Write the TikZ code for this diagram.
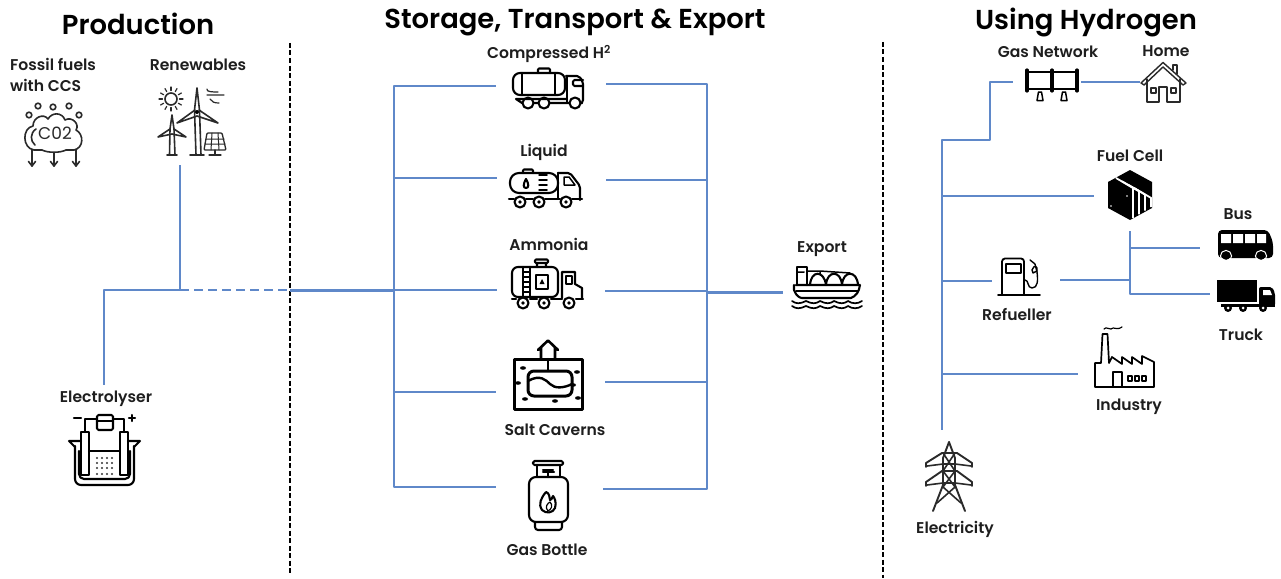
\documentclass[tikz,border=0pt]{standalone}
\usepackage{fontspec}
\usetikzlibrary{calc}
\setmainfont{Poppins}[BoldFont={Poppins SemiBold}]
\tikzset{
  x=1pt,y=-1pt,
  conn/.style={draw=linkblue,line width=2.2pt,line join=round},
  connthick/.style={conn,line width=3pt},
  divider/.style={draw=black,line width=1.6pt,dash pattern=on 5pt off 2.5pt},
  ic/.style={draw=black,line width=2.1pt,line join=round,line cap=round},
  icthin/.style={draw=iconink,line width=1.6pt,line join=round,line cap=round},
  icthick/.style={draw=black,line width=3pt,line join=round,line cap=round},
  lbl/.style={font=\bfseries\fontsize{15.6}{18}\selectfont,text=labelink,inner sep=0pt,align=left},
  head/.style={font=\bfseries\fontsize{27.4}{32}\selectfont,text=black,inner sep=0pt},
  iconbox/.style 2 args={inner sep=0pt,minimum width=#1,minimum height=#2,draw=none,fill=none},
}
\definecolor{linkblue}{HTML}{5F88C9}
\definecolor{labelink}{HTML}{1E1E1E}
\definecolor{iconink}{HTML}{2A2A2A}
\begin{document}
\begin{tikzpicture}
\useasboundingbox (0,0) rectangle (1281,578);
\fill[white] (0,0) rectangle (1281,578);
% headings
\node[head] (hProd) at (138,24) {Production};
\node[head] (hStore) at (575,22) {Storage, Transport \& Export};
\node[head] (hUse) at (1086,22) {Using Hydrogen};
% dividers
\coordinate (divAtop) at (290,43); \coordinate (divAbot) at (290,575);
\coordinate (divBtop) at (883,42); \coordinate (divBbot) at (883,578);
\draw[divider] (divAtop) -- (divAbot);
\draw[divider] (divBtop) -- (divBbot);
% labels
\node[lbl,anchor=west] (lFossil) at (10,75) {Fossil fuels\\[3pt]with CCS};
\node[lbl] (lRenew) at (198,65) {Renewables};
\node[lbl] (lElec) at (106,399) {Electrolyser};
\node[lbl] (lComp) at (549,54) {Compressed H\textsuperscript{2}};
\node[lbl] (lLiq) at (544,152) {Liquid};
\node[lbl] (lAmm) at (549,244) {Ammonia};
\node[lbl] (lSalt) at (555,430) {Salt Caverns};
\node[lbl] (lBottle) at (547,550) {Gas Bottle};
\node[lbl] (lExport) at (822,249) {Export};
\node[lbl] (lGas) at (1048,52) {Gas Network};
\node[lbl] (lHome) at (1166,51) {Home};
\node[lbl] (lFuel) at (1130,156) {Fuel Cell};
\node[lbl] (lBus) at (1238,214) {Bus};
\node[lbl] (lTruck) at (1241,335) {Truck};
\node[lbl] (lRef) at (1017,314) {Refueller};
\node[lbl] (lInd) at (1129,407) {Industry};
\node[lbl] (lElc) at (955,529) {Electricity};
% icon placeholders (connector end points)
\node[iconbox={110pt}{40pt}] (iComp) at (551,86) {};
\node[iconbox={109pt}{40pt}] (iLiq) at (551.5,178) {};
\node[iconbox={108pt}{40pt}] (iAmm) at (551,290) {};
\node[iconbox={109pt}{60pt}] (iSalt) at (550.5,392) {};
\node[iconbox={107pt}{60pt}] (iBottle) at (549.5,487) {};
\node[iconbox={74pt}{40pt}] (iExport) at (820,292) {};
\node[iconbox={68pt}{30pt}] (iGas) at (1047,82) {};
\node[iconbox={44pt}{40pt}] (iHome) at (1162,82) {};
\node[iconbox={72pt}{50pt}] (iFuel) at (1130,196) {};
\node[iconbox={68pt}{40pt}] (iRef) at (1026,281) {};
\node[iconbox={68pt}{40pt}] (iBus) at (1234,248) {};
\node[iconbox={48pt}{30pt}] (iTruck) at (1234,294) {};
\node[iconbox={72pt}{50pt}] (iInd) at (1114,374) {};
\node[iconbox={60pt}{84pt}] (iWind) at (180,123) {};
\node[iconbox={60pt}{80pt}] (iElectrolyser) at (104,425) {};
\node[iconbox={60pt}{80pt}] (iPylon) at (942,470) {};
% production connectors
\coordinate (jProd) at (180,290);
\coordinate (jElbow) at (104,290);
\coordinate (jDiv) at (290,290);
\coordinate (jL) at (394,290);
\coordinate (jLtop) at (394,86);
\coordinate (jLbot) at (394,487);
\draw[conn] (iWind.south) -- (jProd);
\draw[conn] (iElectrolyser.north) -- (jElbow) -- (jProd);
\draw[conn,dash pattern=on 9pt off 5pt] (jProd) -- (jDiv);
\draw[connthick] (jDiv) -- (jL);
% storage connectors
\draw[conn] (iComp.west) -- (jLtop) -- (jLbot) -- (iBottle.west);
\draw[conn] (iLiq.west) -- (iLiq.west -| jL);
\draw[conn] (iAmm.west) -- (jL);
\draw[conn] (iSalt.west) -- (iSalt.west -| jL);
\coordinate (jR) at (707,292);
\coordinate (jRtop) at (707,84);
\coordinate (jRbot) at (707,489);
\draw[conn] ([yshift=2pt]iComp.east) -- (jRtop) -- (jRbot) -- ([yshift=-2pt]iBottle.east);
\draw[conn] ([yshift=-2pt]iLiq.east) -- ([yshift=-2pt]iLiq.east -| jR);
\draw[conn] ([yshift=-1pt]iAmm.east) -- ([yshift=-1pt]iAmm.east -| jR);
\draw[conn] ([yshift=10pt]iSalt.east) -- ([yshift=10pt]iSalt.east -| jR);
\draw[connthick] (jR) -- (iExport.west);
% use connectors
\coordinate (jU) at (942,140);
\coordinate (jUb) at (990,140);
\coordinate (jUc) at (990,82);
\draw[conn] (iPylon.north) -- (jU) -- (jUb) -- (jUc) -- (iGas.west);
\draw[conn] (iGas.east) -- (iHome.west);
\draw[conn] (iFuel.west -| jU) -- (iFuel.west);
\draw[conn] (iRef.west -| jU) -- (iRef.west);
\draw[conn] (iInd.west -| jU) -- (iInd.west);
\coordinate (jV) at (1130,280);
\coordinate (jVtop) at (1130,231);
\coordinate (jVbot) at (1130,294);
\draw[conn] ([yshift=1pt]iRef.east) -- (jV);
\draw[conn] (jVtop) -- (jVbot) -- (iTruck.west);
\draw[conn] (iBus.west -| jV) -- (iBus.west);
%% ---------- icons ----------
% CO2 cloud
\begin{scope}
\draw[icthin] (34,150) .. controls (22,148) and (22,128) .. (33,126) .. controls (33,117) and (44,113) .. (48,119) .. controls (52,112) and (62,112) .. (65,120) .. controls (72,116) and (80,124) .. (76,130) .. controls (84,134) and (84,148) .. (74,150) -- (66,150) .. controls (60,153) and (48,153) .. (42,150) -- cycle;
\draw[icthin] (36,129) .. controls (30,133) and (30,141) .. (35,145);
\foreach \cx/\cy in {29/115,38/106,53/107,69/106,79/115} \draw[icthin] (\cx,\cy) circle (2.8);
\foreach \cx/\ctop in {32/150,54/153,76/150} {
  \draw[icthin] (\cx,\ctop) -- (\cx,166);
  \draw[icthin] (\cx-3.5,161.5) -- (\cx,166) -- (\cx+3.5,161.5);
}
\node[inner sep=0pt,font=\fontsize{17}{17}\selectfont,text=iconink] (tCO) at (55,133) {C02};
\end{scope}
% renewables
\begin{scope}
\draw[icthin] (171,99) circle (6);
\foreach \a in {0,30,...,330} \draw[icthin,line width=1.2pt] ($(171,99)+(\a:8.5)$) -- ($(171,99)+(\a:12)$);
\draw[icthin] (197,88) -- (194.5,110) -- (196,155) (197,88) -- (199.5,110) -- (201,155);
\draw[icthin] (190,155) -- (204,155);
\draw[icthin] (195,110) -- (177,123) -- (197,116) -- (218,123) -- (199,110);
\fill[black] (197,112) circle (2);
\draw[icthin] (172,115) -- (170,129) -- (169.5,155) (172,115) -- (174,129) -- (175,155);
\draw[icthin] (167,155) -- (177,155);
\draw[icthin] (170,129) -- (158,137) -- (172,134) -- (186,137) -- (174,129);
\draw[icthin,line width=1.2pt] (207,95) -- (224,95) (207,89) .. controls (206,92) and (213,92) .. (218,92) (210,99) .. controls (212,102) and (214,103) .. (219,103);
\draw[icthin,line width=1.3pt,rounded corners=1pt] (207,133) -- (222,133) -- (226,150) -- (204,150) -- cycle;
\draw[icthin,line width=1pt] (206,139) -- (224,139) (205,144) -- (225,144) (212,133) -- (211,150) (218,133) -- (219,150);
\draw[icthin,line width=1.2pt] (215,150) -- (215,155) (209,155) -- (221,155);
\end{scope}
% electrolyser
\begin{scope}
\draw[ic] (69,441) -- (81,441) (128,441) -- (140,441) (69,441) -- (75,447) (140,441) -- (134,447);
\draw[ic,rounded corners=6pt] (75,446) -- (75,485) -- (134,485) -- (134,446);
\draw[ic,rounded corners=5pt] (79,451) -- (79,479) -- (130,479) -- (130,451);
\draw[ic] (89,451) -- (119,451);
\draw[ic] (81,432) rectangle (89,475);
\draw[ic] (120,432) rectangle (128,475);
\draw[ic] (85,432) -- (85,419) -- (97,419) (113,419) -- (124,419) -- (124,432);
\draw[ic,rounded corners=1.5pt] (97,415) rectangle (113,430);
\draw[ic] (97,421) -- (113,421);
\draw[ic] (74,418) -- (81,418);
\draw[ic] (129,418) -- (135,418) (132,415) -- (132,421);
\foreach \px in {97,102,107,112} \foreach \py in {458,463,468,474} \fill[black!80] (\px,\py) circle (1.2);
\end{scope}
% truck 1
\begin{scope}
\draw[ic,rounded corners=7pt] (513,73) rectangle (565,95);
\draw[ic] (522,73) -- (522,95) (555,73) -- (555,95);
\draw[ic,rounded corners=1pt] (538,73) -- (538,68.5) -- (550,68.5) -- (550,73);
\draw[ic,rounded corners=2pt] (566,76) -- (579,76) -- (583,82) -- (583,102) -- (582,103);
\draw[ic] (567,76) -- (567,103) -- (569,103);
\draw[ic,rounded corners=1.5pt] (583,80) -- (573,80) -- (573,86) -- (583,86);
\draw[ic] (516,99) -- (522,103) (516,99) -- (567,99) (534,103) -- (538,103) (550,103) -- (569,103);
\draw[ic] (528,103) circle (5.5) (544,103) circle (5.5) (575,103) circle (5.5);
\end{scope}
% truck 2
\begin{scope}
\draw[ic,rounded corners=9pt] (510,173) -- (558,173) -- (558,193) -- (510,193) -- cycle;
\draw[ic,rounded corners=1pt] (523,173) -- (523,169.5) -- (533,169.5) -- (533,173);
\draw[ic] (526,179) .. controls (523,184) and (523,188) .. (526,188) .. controls (529,188) and (529,184) .. (526,179);
\draw[ic,line width=1.5pt] (539,175) -- (547,175) (539,180) -- (547,180) (539,185) -- (547,185) (539,190) -- (547,190);
\draw[ic,rounded corners=2pt] (558,173) -- (570,173) -- (580,186) -- (580,200);
\draw[ic] (558,173) -- (558,198);
\draw[ic,line width=1.5pt] (564,177) -- (569,177) -- (575,185) -- (564,185) -- cycle;
\draw[ic] (509,199) -- (514,199) (526,199) -- (533,199) (545,199) -- (560,199) (572,199) -- (582,199);
\foreach \wx in {520,539,566} {\draw[ic] (\wx,202) circle (5.5); \fill[black] (\wx,202) circle (1.8);}
\end{scope}
% truck 3
\begin{scope}
\draw[ic,rounded corners=6pt] (512,267) rectangle (558,297);
\draw[ic] (523,267) -- (523,297) (530,267) -- (530,297);
\foreach \ly in {272,277,282,287,292} \draw[ic,line width=1.4pt] (523,\ly) -- (530,\ly);
\draw[ic,rounded corners=1pt] (537,267) -- (537,263) -- (546,263) -- (546,267) (535,259.5) rectangle (548,263);
\draw[ic] (536,275) rectangle (548,289);
\fill[black] (542,279) -- (539.5,284) -- (544.5,284) -- cycle;
\draw[ic] (562,298) -- (562,272) -- (575,272) -- (575,284) -- (582,288) -- (582,298);
\draw[ic,line width=1.5pt] (566,276) -- (572,276) -- (572,284) -- (566,284) -- cycle;
\draw[ic] (512,299) -- (516,299) (530,299) -- (537,299) (551,299) -- (562,299) (576,299) -- (583,299);
\foreach \wx in {523,544,569} {\draw[ic] (\wx,303) circle (5.5); \fill[black] (\wx,303) circle (1.8);}
\end{scope}
% salt cavern
\begin{scope}
\draw[icthick] (514,359) rectangle (582,409);
\draw[icthick,rounded corners=6pt] (528,371) rectangle (572,396);
\draw[icthick,line width=2.4pt] (528,381) .. controls (540,374) and (546,380) .. (550,384) .. controls (555,389) and (564,388) .. (572,384);
\draw[icthick,line width=2.4pt] (548,359) -- (548,371);
\draw[icthick,line width=2.6pt] (538,350) -- (548,340.5) -- (558,350) (541,348) -- (541,359) (555,348) -- (555,359);
\foreach \dx/\dy in {523/368,518/383,525/399,555/401,578/398,573/385,577/372}
  \fill[black] (\dx,\dy) ellipse (3 and 1.8);
\end{scope}
% gas bottle
\begin{scope}
\draw[ic,rounded corners=1.5pt] (533,461) rectangle (563,465);
\draw[ic] (537,465) -- (537,477) (560,465) -- (560,477) (543,472) -- (554,472) (548,472) -- (548,477) (543,470) -- (553,470);
\draw[ic,rounded corners=7pt] (529,477) rectangle (568,522);
\draw[ic,rounded corners=3pt] (535,522) -- (535,530) -- (562,530) -- (562,522);
\draw[ic] (546,492) .. controls (541,498) and (538,504) .. (542,510) .. controls (546,514) and (553,513) .. (555,508) .. controls (557,502) and (554,497) .. (553,496) .. controls (552,499) and (551,500) .. (550,500) .. controls (550,497) and (549,493) .. (546,492);
\draw[ic,line width=1.2pt] (548,511) .. controls (544,507) and (548,503) .. (550,502) .. controls (553,505) and (552,509) .. (548,511);
\end{scope}
% export ship
\begin{scope}
\draw[ic] (796,285) -- (860,285) (794,285) -- (794,290) .. controls (796,296) and (800,298) .. (802,298) -- (851,298) .. controls (856,296) and (859,292) .. (860,285);
\draw[ic,line width=1.4pt] (796,291) -- (858,291);
\draw[ic] (797,285) -- (797,267) -- (807,267) -- (807,285);
\draw[ic,line width=1.5pt] (797,272) -- (804,272) (807,271) -- (820,271) -- (820,274) (820,271) -- (850,273);
\draw[ic] (810,285) .. controls (811,270) and (824,270) .. (826,285);
\draw[ic] (826,285) .. controls (827,270) and (841,270) .. (842,285);
\draw[ic] (842,285) .. controls (843,270) and (857,270) .. (858,285);
\foreach \wy in {301,306}
  \draw[ic,line width=1.7pt] (792,\wy) .. controls (796,\wy+3) and (800,\wy+3) .. (806,\wy) .. controls (812,\wy+3) and (816,\wy+3) .. (820,\wy) .. controls (826,\wy+3) and (830,\wy+3) .. (834,\wy) .. controls (840,\wy+3) and (844,\wy+3) .. (848,\wy) .. controls (852,\wy+3) and (858,\wy+3) .. (862,\wy);
\end{scope}
% gas network
\begin{scope}
\draw[ic] (1027,72) -- (1077,72) (1027,89) -- (1077,89);
\foreach \fx in {1027,1052,1077} \draw[ic,line width=3.2pt] (\fx,70) -- (\fx,91);
\draw[ic,line width=1.5pt] (1038.5,92) -- (1041.5,92) -- (1043,100.5) -- (1037,100.5) -- cycle;
\draw[ic,line width=1.5pt] (1062.5,92) -- (1065.5,92) -- (1067,100.5) -- (1061,100.5) -- cycle;
\end{scope}
% home
\begin{scope}
\draw[icthin,line width=1.4pt] (1147,79) -- (1147,102) -- (1159,102) -- (1159,87) -- (1167,87) -- (1167,102) -- (1180,102) -- (1180,79);
\draw[icthin,line width=1.4pt] (1141,83) -- (1163,62.5) -- (1186,83) -- (1183,85) -- (1163,67) -- (1144,85) -- cycle;
\draw[icthin,line width=1.4pt] (1173,70) -- (1173,65) -- (1177,65) -- (1177,74);
\draw[icthin,line width=1.4pt] (1151,88) rectangle (1156,93) (1171,88) rectangle (1176,93);
\end{scope}
% fuel cell
\begin{scope}
\fill[black] (1130,170) -- (1152,182) -- (1152,208) -- (1130,220) -- (1108,208) -- (1108,182) -- cycle;
\foreach \sa/\sb in {0/0,6/3.3,12/6.6,18/9.9}
  \draw[white,line width=1.8pt] (1116+\sa,178+\sb) -- (1133+\sa,188+\sb) -- (1133+\sa,218-\sb*1.1);
\fill[white] (1127,196) circle (0.9) (1111,206) circle (0.9);
\end{scope}
% refueller
\begin{scope}
\draw[ic,line width=1.8pt,rounded corners=3pt] (1002,295) -- (1002,258.5) -- (1024,258.5) -- (1024,295);
\draw[ic,line width=1.5pt] (1006,264) rectangle (1021,273);
\draw[ic,line width=1.8pt] (998,295) -- (1040,295);
\draw[ic,line width=1.4pt] (1025,280) .. controls (1029,280) and (1027,288) .. (1032,288) .. controls (1038,288) and (1038,280) .. (1037,272) -- (1035,264) -- (1030,260);
\draw[ic,line width=1.4pt] (1032,270) .. controls (1034,264) and (1038,266) .. (1037,271) -- (1033,273) -- cycle;
\end{scope}
% bus
\begin{scope}
\fill[black,rounded corners=4pt] (1218,230) -- (1268,230) -- (1273,242) -- (1273,258) -- (1218,258) -- cycle;
\fill[white] (1221,234) rectangle (1231,243) (1233,234) rectangle (1243,243) (1245,234) rectangle (1255,243) (1257,234) rectangle (1266,243);
\draw[white,line width=1pt] (1226,256) circle (5.6) (1261,256) circle (5.6);
\fill[black] (1226,256) circle (3.8) (1261,256) circle (3.8);
\end{scope}
% black truck
\begin{scope}
\fill[black] (1217,280) rectangle (1257,302);
\fill[black,rounded corners=2pt] (1259,287) -- (1272,287) -- (1275,293) -- (1275,306) -- (1259,306) -- cycle;
\fill[white] (1263,290) -- (1270,290) -- (1272,295) -- (1263,295) -- cycle;
\fill[black] (1221,304) rectangle (1275,306.5);
\foreach \wx in {1228,1243,1263} {\fill[black] (\wx,308) circle (4); \fill[white] (\wx,308) circle (1.5);}
\end{scope}
% industry
\begin{scope}
\draw[ic,line width=1.7pt] (1095,387) -- (1095,363) -- (1101,363) -- (1102.5,334) -- (1107.5,334) -- (1109,363) -- (1112,357) -- (1122,364) -- (1122,357) -- (1132,364) -- (1132,357) -- (1142,364) -- (1142,356) -- (1154,362) -- (1154,387) -- cycle;
\draw[ic,line width=1.7pt] (1113,387) -- (1113,372) -- (1122,372) -- (1122,387);
\draw[ic,line width=1.5pt] (1128,376) rectangle (1132,381) (1135,376) rectangle (1139,381) (1142,376) rectangle (1146,381);
\draw[ic,line width=1.2pt] (1104,329) .. controls (1107,326) and (1108,330) .. (1111,329) .. controls (1114,326) and (1116,331) .. (1122,327);
\end{scope}
% pylon
\begin{scope}
\draw[icthin,line width=1.9pt] (949,442) -- (943,458) -- (943,485) -- (933,511);
\draw[icthin,line width=1.9pt] (949,442) -- (955,458) -- (955,485) -- (965,511);
\draw[icthin,line width=1.9pt] (926,463) -- (942,453) -- (957,453) -- (972,463);
\draw[icthin,line width=1.9pt] (926,482) -- (942,471) -- (957,471) -- (972,482);
\draw[icthin,line width=1.7pt] (926,463) -- (926,467) (972,463) -- (972,467) (926,482) -- (926,486) (972,482) -- (972,486);
\draw[icthin,line width=1.6pt] (927,466) -- (943,464) -- (955,464) -- (971,466) (927,485) -- (943,483) -- (955,483) -- (971,485);
\draw[icthin,line width=1.6pt] (943,453) -- (955,471) (955,453) -- (943,471) (943,471) -- (955,487) (955,471) -- (943,487) (943,487) -- (961,503) (955,487) -- (937,503);
\end{scope}
\end{tikzpicture}
\end{document}
